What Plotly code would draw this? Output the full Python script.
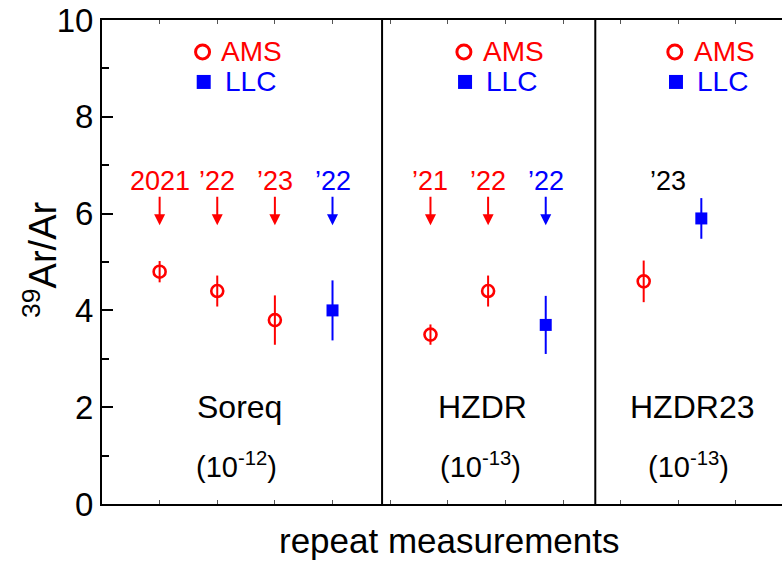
import plotly.graph_objects as go

# AMS results (open circles) and LLC results (filled squares)
ams_x = [1, 2, 3, 5.7, 6.7, 9.4]
ams_y = [4.8, 4.4, 3.8, 3.5, 4.4, 4.6]
ams_err = [0.22, 0.32, 0.51, 0.21, 0.32, 0.43]

llc_x = [4, 7.7, 10.4]
llc_y = [4.0, 3.7, 5.9]
llc_err = [0.62, 0.6, 0.42]

# year tags above the points
year_x = [1, 2, 3, 4, 5.7, 6.7, 7.7, 9.82]
year_text = ["2021", "’22", "’23", "’22", "’21", "’22", "’22", "’23"]
year_color = ["red", "red", "red", "blue", "red", "red", "blue", "black"]
year_arrow = [True, True, True, True, True, True, True, False]

# sample groups, their scale factor and separators
group_x = [2.38, 6.61, 10.23]
group_name = ["Soreq", "HZDR", "HZDR23"]
group_scale = ["-12", "-13", "-13"]
separators = [4.86, 8.56]

# in-panel key positions
key_x = [1.745, 6.28, 9.94]

RED = "#ff0000"
BLUE = "#0000ff"
FONT = "Liberation Sans, Arial, sans-serif"
colors = {"red": RED, "blue": BLUE, "black": "black"}

fig = go.Figure()

fig.add_trace(go.Scatter(
    x=ams_x, y=ams_y, mode="markers",
    marker=dict(symbol="circle-open", size=12, color=RED, line=dict(width=2.6, color=RED)),
    error_y=dict(type="data", array=ams_err, color=RED, thickness=2, width=0),
    showlegend=False,
))
fig.add_trace(go.Scatter(
    x=llc_x, y=llc_y, mode="markers",
    marker=dict(symbol="square", size=12, color=BLUE),
    error_y=dict(type="data", array=llc_err, color=BLUE, thickness=2, width=0),
    showlegend=False,
))

# key symbols drawn in every panel
fig.add_trace(go.Scatter(
    x=key_x, y=[9.34] * len(key_x), mode="markers",
    marker=dict(symbol="circle-open", size=14, color=RED, line=dict(width=3, color=RED)),
    showlegend=False, hoverinfo="skip",
))
fig.add_trace(go.Scatter(
    x=[k + 0.02 for k in key_x], y=[8.72] * len(key_x), mode="markers",
    marker=dict(symbol="square", size=14, color=BLUE),
    showlegend=False, hoverinfo="skip",
))

annotations = []
for kx in key_x:
    annotations.append(dict(x=kx + 0.29, y=9.34, xref="x", yref="y", text="AMS",
                            showarrow=False, xanchor="left", yanchor="middle",
                            font=dict(family=FONT, size=28, color=RED)))
    annotations.append(dict(x=kx + 0.35, y=8.72, xref="x", yref="y", text="LLC",
                            showarrow=False, xanchor="left", yanchor="middle",
                            font=dict(family=FONT, size=28, color=BLUE)))

for xv, t, c, arr in zip(year_x, year_text, year_color, year_arrow):
    annotations.append(dict(x=xv, y=6.68, xref="x", yref="y", text=t, showarrow=False,
                            xanchor="center", yanchor="middle",
                            font=dict(family=FONT, size=27, color=colors[c])))
    if arr:
        annotations.append(dict(x=xv, y=5.76, ax=xv, ay=6.38, xref="x", yref="y",
                                axref="x", ayref="y", text="", showarrow=True,
                                arrowhead=2, arrowsize=1.1, arrowwidth=2,
                                arrowcolor=colors[c], standoff=0, startstandoff=0))

for gx, name, sc in zip(group_x, group_name, group_scale):
    annotations.append(dict(x=gx, y=2.0, xref="x", yref="y", text=name, showarrow=False,
                            xanchor="center", yanchor="middle",
                            font=dict(family=FONT, size=32, color="black")))
    annotations.append(dict(x=gx - 0.05, y=0.8, xref="x", yref="y",
                            text="(10<sup>" + sc + "</sup>)", showarrow=False,
                            xanchor="center", yanchor="middle",
                            font=dict(family=FONT, size=29, color="black")))

# y-axis title
annotations.append(dict(x=-0.092, y=5.05, xref="paper", yref="y",
                        text="<sup>39</sup>Ar/Ar", showarrow=False, textangle=-90,
                        xanchor="center", yanchor="middle",
                        font=dict(family=FONT, size=38, color="black")))
# x-axis title
annotations.append(dict(x=0.51, y=-0.075, xref="paper", yref="paper",
                        text="repeat measurements", showarrow=False,
                        xanchor="center", yanchor="middle",
                        font=dict(family=FONT, size=35, color="black")))

shapes = [dict(type="line", xref="x", yref="y", x0=s, x1=s, y0=0, y1=10,
               line=dict(color="black", width=2)) for s in separators]

fig.update_layout(
    width=782, height=563,
    margin=dict(l=102, r=0, t=20, b=59),
    plot_bgcolor="white", paper_bgcolor="white",
    showlegend=False,
    annotations=annotations,
    shapes=shapes,
    xaxis=dict(range=[0, 11.8], showgrid=False, zeroline=False,
               showline=True, linecolor="black", linewidth=2, mirror="ticks",
               ticks="inside", ticklen=4, tickwidth=1, tickcolor="#555555",
               tick0=0, dtick=1, showticklabels=False),
    yaxis=dict(range=[0, 10], showgrid=False, zeroline=False,
               showline=True, linecolor="black", linewidth=2,
               ticks="inside", ticklen=11, tickwidth=1.5, tickcolor="black",
               tick0=0, dtick=2,
               minor=dict(ticks="inside", ticklen=7, tickwidth=1.5, tickcolor="black", dtick=1),
               tickfont=dict(family=FONT, size=33, color="black")),
)

fig.write_html("out.html")
